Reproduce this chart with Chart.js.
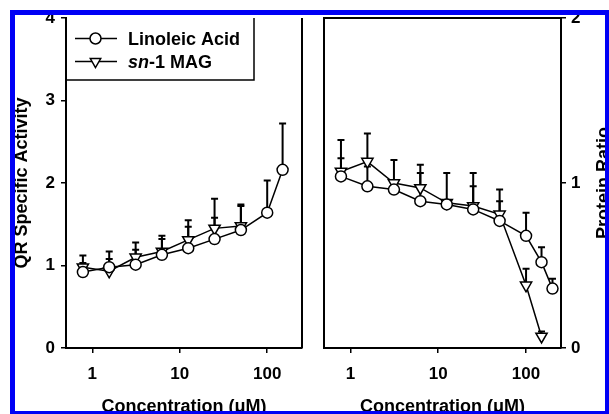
<!DOCTYPE html>
<html>
<head>
<meta charset="utf-8">
<script src="https://cdn.jsdelivr.net/npm/chart.js@4/dist/chart.umd.min.js"></script>
<style>
  html, body { margin: 0; padding: 0; background: #fff; overflow: hidden; }
  #wrap { position: relative; width: 609px; height: 414px; overflow: hidden; }
  #qrChart { position: absolute; left: 0; top: 0; }
  #proteinChart { position: absolute; left: 312px; top: 0; }
  #frame { position: absolute; left: 10px; top: 10px; width: 600px; height: 406px; box-sizing: border-box; border: 5px solid #0000f5; pointer-events: none; }
</style>
</head>
<body>
<div id="wrap">
  <canvas id="qrChart" width="312" height="414"></canvas>
  <canvas id="proteinChart" width="297" height="414"></canvas>
  <div id="frame"></div>
</div>
<script>
// concentrations in uM
const concentrations = [0.78, 1.56, 3.13, 6.25, 12.5, 25, 50, 100, 150, 200];
const xTicks = [1, 10, 100];

// left panel - QR specific activity (mean and top of error bar)
const linoleicQR = [0.92, 0.98, 1.01, 1.13, 1.21, 1.32, 1.43, 1.64, 2.16];
const linoleicQRUpper = [1.03, 1.08, 1.19, 1.32, 1.47, 1.58, 1.72, 2.03, 2.72];
const magQR = [0.98, 0.93, 1.10, 1.17, 1.31, 1.45, 1.48];
const magQRUpper = [1.12, 1.17, 1.28, 1.36, 1.55, 1.81, 1.74];
const qrTicks = [0, 1, 2, 3, 4];

// right panel - protein ratio
const linoleicProtein = [1.04, 0.98, 0.96, 0.89, 0.87, 0.84, 0.77, 0.68, 0.52, 0.36];
const linoleicProteinUpper = [1.15, 1.10, null, 1.06, null, 0.98, 0.89, 0.82, 0.61, 0.42];
const magProtein = [1.07, 1.13, 1.00, 0.97, 0.88, 0.86, 0.81, 0.38, 0.07];
const magProteinUpper = [1.26, 1.30, 1.14, 1.11, 1.06, 1.06, 0.96, 0.48, 0.10];
const proteinTicks = [0, 1, 2];

const FONT = '"Liberation Sans", Arial, Helvetica, sans-serif';
Chart.defaults.font.family = FONT;
Chart.defaults.color = '#000';

const toPoints = vals => vals.map((v, i) => ({ x: concentrations[i], y: v }));

function lineDataset(label, vals, upper, style) {
    return {
        label: label,
        data: toPoints(vals),
        errorUpper: upper,
        borderColor: '#000',
        borderWidth: 1.5,
        backgroundColor: '#fff',
        pointStyle: style,
        pointRadius: style === 'circle' ? 5.5 : 6.5,
        pointRotation: style === 'circle' ? 0 : 180,
        pointBackgroundColor: '#fff',
        pointBorderColor: '#000',
        pointBorderWidth: 1.5,
        fill: false,
        tension: 0,
        clip: false
    };
}

function drawMarker(ctx, style, x, y, r) {
    ctx.beginPath();
    if (style === 'circle') {
        ctx.arc(x, y, r, 0, Math.PI * 2);
    } else {
        // downward triangle
        const a = Math.PI;
        for (let k = 0; k < 3; k++) {
            const ang = a + k * 2 * Math.PI / 3;
            const px = x + Math.sin(ang) * r;
            const py = y - Math.cos(ang) * r;
            if (k === 0) ctx.moveTo(px, py); else ctx.lineTo(px, py);
        }
        ctx.closePath();
    }
    ctx.fillStyle = '#fff';
    ctx.fill();
    ctx.stroke();
}

const errorBars = {
    id: 'errorBars',
    beforeDatasetsDraw(chart) {
        const ctx = chart.ctx;
        const yScale = chart.scales.y;
        ctx.save();
        ctx.strokeStyle = '#000';
        ctx.lineWidth = 2;
        chart.data.datasets.forEach((ds, di) => {
            const meta = chart.getDatasetMeta(di);
            meta.data.forEach((pt, i) => {
                const up = ds.errorUpper[i];
                if (up == null) return;
                const yTop = yScale.getPixelForValue(up);
                ctx.beginPath();
                ctx.moveTo(pt.x, pt.y);
                ctx.lineTo(pt.x, yTop);
                ctx.moveTo(pt.x - 3.5, yTop);
                ctx.lineTo(pt.x + 3.5, yTop);
                ctx.stroke();
            });
        });
        ctx.restore();
    }
};

const panelFrame = {
    id: 'panelFrame',
    afterDraw(chart, args, opts) {
        const { ctx, chartArea: a } = chart;
        ctx.save();
        ctx.strokeStyle = '#000';
        ctx.lineWidth = 2;
        ctx.beginPath();
        if (opts.left) { ctx.moveTo(a.left, a.top); ctx.lineTo(a.left, a.bottom); }
        if (opts.right) { ctx.moveTo(a.right, a.top); ctx.lineTo(a.right, a.bottom); }
        if (opts.top) { ctx.moveTo(a.left - 1, a.top); ctx.lineTo(a.right + 1, a.top); }
        ctx.stroke();
        ctx.restore();
    }
};

const boxLegend = {
    id: 'boxLegend',
    afterDraw(chart, args, opts) {
        if (!opts.show) return;
        const { ctx, chartArea: a } = chart;
        const right = a.left + 188;
        const bottom = a.top + 62;
        ctx.save();
        ctx.strokeStyle = '#000';
        ctx.lineWidth = 1.5;
        ctx.beginPath();
        ctx.moveTo(right, a.top);
        ctx.lineTo(right, bottom);
        ctx.lineTo(a.left, bottom);
        ctx.stroke();

        const rows = [a.top + 20.5, a.top + 43.5];
        chart.data.datasets.forEach((ds, i) => {
            const y = rows[i];
            ctx.lineWidth = 1.5;
            ctx.beginPath();
            ctx.moveTo(a.left + 9, y);
            ctx.lineTo(a.left + 51, y);
            ctx.stroke();
            drawMarker(ctx, ds.pointStyle, a.left + 29.5, y, ds.pointStyle === 'circle' ? 5.5 : 6);
        });

        ctx.fillStyle = '#000';
        ctx.textBaseline = 'alphabetic';
        ctx.textAlign = 'left';
        const tx = a.left + 62;
        ctx.font = 'bold 18px ' + FONT;
        ctx.fillText('Linoleic Acid', tx, rows[0] + 6);
        ctx.font = 'italic bold 18px ' + FONT;
        ctx.fillText('sn', tx, rows[1] + 6);
        const w = ctx.measureText('sn').width;
        ctx.font = 'bold 18px ' + FONT;
        ctx.fillText('-1 MAG', tx + w, rows[1] + 6);
        ctx.restore();
    }
};

const rightTitle = {
    id: 'rightTitle',
    afterDraw(chart, args, opts) {
        if (!opts.text) return;
        const { ctx, chartArea: a } = chart;
        ctx.save();
        ctx.translate(chart.width - 4.5, (a.top + a.bottom) / 2);
        ctx.rotate(-Math.PI / 2);
        ctx.font = 'bold 18px ' + FONT;
        ctx.fillStyle = '#000';
        ctx.textAlign = 'center';
        ctx.textBaseline = 'middle';
        ctx.fillText(opts.text, 0, 0);
        ctx.restore();
    }
};

function xAxis() {
    return {
        type: 'logarithmic',
        min: 0.5,
        max: 250,
        afterBuildTicks: scale => { scale.ticks = xTicks.map(v => ({ value: v })); },
        afterFit: scale => { scale.height = 66; },
        ticks: {
            autoSkip: false,
            maxRotation: 0,
            padding: 11,
            font: { size: 17, weight: 'bold' },
            callback: v => String(v)
        },
        grid: { display: true, drawOnChartArea: false, drawTicks: true, tickLength: 5, color: '#000', lineWidth: 1.5 },
        border: { display: true, color: '#000', width: 2 },
        title: {
            display: true,
            text: 'Concentration (μM)',
            font: { size: 18, weight: 'bold' },
            padding: { top: 0, bottom: -3.5 }
        }
    };
}

function yAxis(ticksArr, position, width, titleText) {
    return {
        type: 'linear',
        position: position,
        min: ticksArr[0],
        max: ticksArr[ticksArr.length - 1],
        afterBuildTicks: scale => { scale.ticks = ticksArr.map(v => ({ value: v })); },
        afterFit: scale => { scale.width = width; },
        ticks: {
            padding: position === 'left' ? 6 : 5,
            font: { size: 17, weight: 'bold' },
            callback: v => String(v)
        },
        grid: { display: true, drawOnChartArea: false, drawTicks: true, tickLength: 5, color: '#000', lineWidth: 1.5 },
        border: { display: true, color: '#000', width: 2 },
        title: {
            display: !!titleText,
            text: titleText || '',
            font: { size: 18, weight: 'bold' },
            padding: { top: 11, bottom: 0 }
        }
    };
}

new Chart(document.getElementById('qrChart').getContext('2d'), {
    type: 'line',
    data: {
        datasets: [
            lineDataset('Linoleic Acid', linoleicQR, linoleicQRUpper, 'circle'),
            lineDataset('sn-1 MAG', magQR, magQRUpper, 'triangle')
        ]
    },
    options: {
        responsive: false,
        animation: false,
        events: [],
        devicePixelRatio: 1,
        layout: { padding: { top: 18, right: 10, left: 0, bottom: 0 } },
        plugins: {
            legend: { display: false },
            tooltip: { enabled: false },
            panelFrame: { right: true },
            boxLegend: { show: true }
        },
        scales: {
            x: xAxis(),
            y: yAxis(qrTicks, 'left', 66, 'QR Specific Activity')
        }
    },
    plugins: [errorBars, panelFrame, boxLegend]
});

new Chart(document.getElementById('proteinChart').getContext('2d'), {
    type: 'line',
    data: {
        datasets: [
            lineDataset('Linoleic Acid', linoleicProtein, linoleicProteinUpper, 'circle'),
            lineDataset('sn-1 MAG', magProtein, magProteinUpper, 'triangle')
        ]
    },
    options: {
        responsive: false,
        animation: false,
        events: [],
        devicePixelRatio: 1,
        layout: { padding: { top: 18, right: 0, left: 12, bottom: 0 } },
        plugins: {
            legend: { display: false },
            tooltip: { enabled: false },
            panelFrame: { left: true, top: true },
            rightTitle: { text: 'Protein Ratio' }
        },
        scales: {
            x: xAxis(),
            y: yAxis(proteinTicks, 'right', 48, null)
        }
    },
    plugins: [errorBars, panelFrame, rightTitle]
});
</script>
</body>
</html>
